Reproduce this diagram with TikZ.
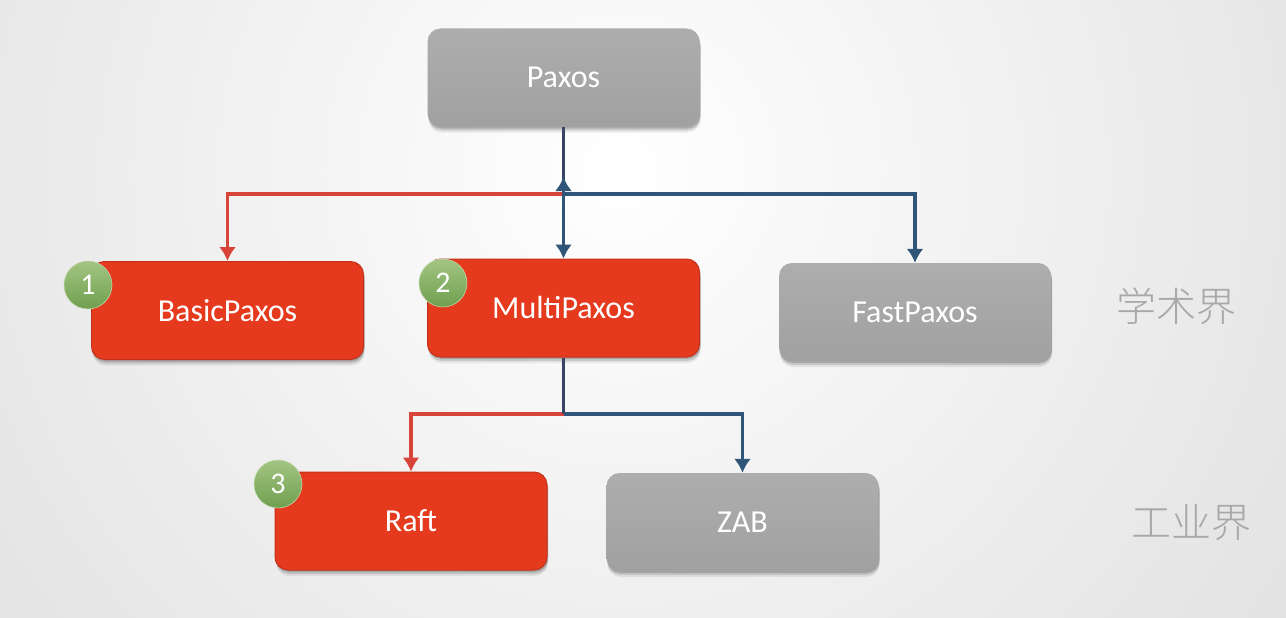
\documentclass[tikz,border=0pt]{standalone}
\usepackage{fontspec}
\setmainfont{Carlito}
\newfontfamily\cjkfont{Noto Sans CJK SC Light}
\usetikzlibrary{arrows.meta,shadows}
\definecolor{redbox}{HTML}{E53A1E}
\definecolor{redline}{HTML}{D9443A}
\definecolor{blueline}{HTML}{2F5678}
\definecolor{darkline}{HTML}{3A4564}
\definecolor{badgetop}{HTML}{A3C583}
\definecolor{badgebottom}{HTML}{6F9F4E}
\tikzset{
    softshadow/.style={drop shadow={shadow xshift=1pt, shadow yshift=-2pt, opacity=.16, fill=black},
        drop shadow={shadow xshift=1pt, shadow yshift=-4pt, opacity=.12, fill=black},
        drop shadow={shadow xshift=1pt, shadow yshift=-6pt, opacity=.07, fill=black}},
    box/.style={rounded corners=13pt, minimum width=272pt, minimum height=98pt, inner sep=0pt,
        text=white, font=\fontsize{32}{32}\selectfont, softshadow},
    graybox/.style={box, top color=black!32, bottom color=black!37, draw=none},
    redbox/.style={box, fill=redbox, draw=redbox!85!black, line width=1pt},
    badge/.style={circle, minimum size=48pt, inner sep=0pt, text=white, font=\fontsize{30}{30}\selectfont,
        top color=badgetop, bottom color=badgebottom, draw=badgetop!70!white, line width=.6pt},
    bluelink/.style={draw=blueline, line width=3.4pt, -{Latex[length=14pt,width=17pt]}},
    redlink/.style={draw=redline, line width=3.4pt, -{Latex[length=14pt,width=17pt]}},
    side/.style={text=black!34, font=\cjkfont\fontsize{40}{40}\selectfont, inner sep=0pt}
}
\begin{document}
\begin{tikzpicture}[x=1pt, y=-1pt]
        \useasboundingbox (0,0) rectangle (1286,618);
        % background
        \begin{scope}
            \clip (0,0) rectangle (1286,618);
            \shade [inner color=white, outer color=black!14] (620,170) circle (1000);
        \end{scope}
        % boxes
        \node [graybox] (paxos) at (563.5,77.5) {Paxos};
        \node [redbox] (basicpaxos) at (227.5,310.5) {BasicPaxos};
        \node [redbox] (multipaxos) at (563.5,308) {MultiPaxos};
        \node [graybox] (fastpaxos) at (915,312) {FastPaxos};
        \node [redbox] (raft) at (411,521) {Raft};
        \node [graybox] (zab) at (742.5,522) {ZAB};
        % links
        \coordinate (fork) at (563.5,194);
        \coordinate (forktip) at (563.5,177);
        \coordinate (split) at (563.5,414);
        \draw [redlink] (fork) -| (basicpaxos.north);
        \draw [bluelink] (fork) -| (fastpaxos.north);
        \draw [draw=darkline, line width=3.4pt] (paxos.south) -- (fork);
        \draw [bluelink] (fork) -- (forktip);
        \draw [bluelink] (fork) -- (multipaxos.north);
        \draw [redlink] (split) -| (raft.north);
        \draw [bluelink] (split) -| (zab.north);
        \draw [draw=darkline, line width=3.4pt] (multipaxos.south) -- (split);
        % badges
        \node [badge] (one) at (88,285) {1};
        \node [badge] (two) at (443,283) {2};
        \node [badge] (three) at (278,484) {3};
        % side labels
        \node [side] (academia) at (1176,306) {学术界};
        \node [side] (industry) at (1191,523) {工业界};
    \end{tikzpicture}
\end{document}
